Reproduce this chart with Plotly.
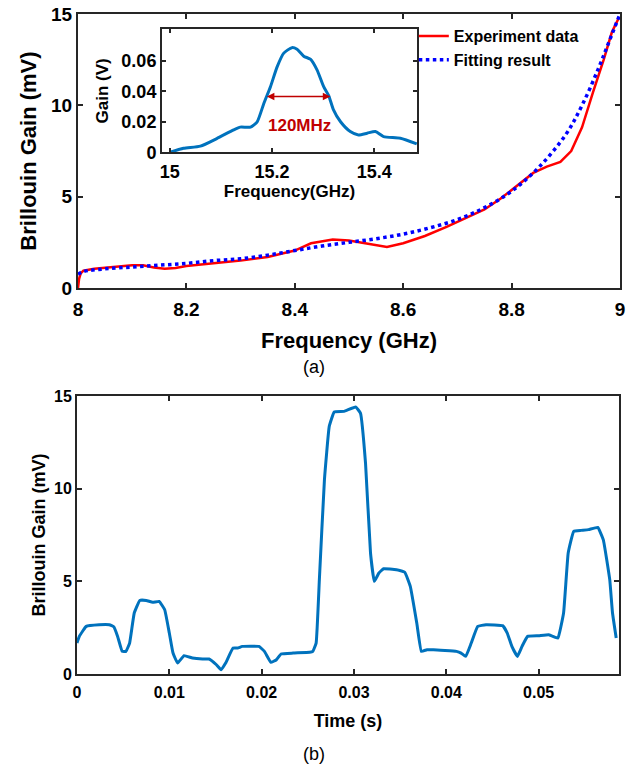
import plotly.graph_objects as go

# ---------- (a) main: experiment vs fit ----------
freq_exp = [8.0, 8.002, 8.005, 8.01, 8.03, 8.06, 8.1, 8.12, 8.14, 8.16, 8.18, 8.2, 8.25, 8.3, 8.35,
            8.4, 8.43, 8.47, 8.5, 8.54, 8.57, 8.6, 8.64, 8.68, 8.72, 8.75, 8.78, 8.81, 8.84, 8.865,
            8.89, 8.91, 8.93, 8.95, 8.97, 8.985, 8.998]
gain_exp = [0.0, 0.5, 0.8, 0.95, 1.05, 1.15, 1.25, 1.25, 1.12, 1.05, 1.1, 1.2, 1.35, 1.5, 1.7,
            2.05, 2.45, 2.65, 2.6, 2.4, 2.25, 2.45, 2.85, 3.35, 3.9, 4.3, 4.9, 5.6, 6.3, 6.65,
            6.9, 7.5, 8.8, 10.7, 12.5, 14.0, 14.8]

freq_fit = [8.0, 8.01, 8.05, 8.1, 8.15, 8.2, 8.25, 8.3, 8.35, 8.4, 8.45, 8.5, 8.55, 8.6, 8.65,
            8.7, 8.75, 8.8, 8.85, 8.9, 8.93, 8.96, 8.98, 9.0]
gain_fit = [0.75, 0.9, 1.05, 1.15, 1.25, 1.35, 1.5, 1.6, 1.8, 2.05, 2.3, 2.5, 2.7, 2.95, 3.3,
            3.75, 4.4, 5.3, 6.6, 8.4, 10.0, 12.0, 13.5, 15.0]

# ---------- (a) inset: Brillouin gain spectrum ----------
freq_in = [15.001, 15.027, 15.060, 15.092, 15.125, 15.138, 15.158, 15.171, 15.184, 15.197, 15.210,
           15.223, 15.239, 15.249, 15.262, 15.275, 15.288, 15.301, 15.311, 15.320, 15.334, 15.353,
           15.369, 15.386, 15.402, 15.418, 15.451, 15.483]
gain_in = [0.0, 0.0026, 0.004, 0.009, 0.0147, 0.0165, 0.0165, 0.020, 0.032, 0.043, 0.056,
           0.065, 0.0686, 0.0675, 0.063, 0.061, 0.054, 0.043, 0.037, 0.028, 0.020, 0.0136,
           0.0114, 0.0125, 0.0136, 0.0103, 0.0092, 0.0055]
fwhm_lo, fwhm_hi, fwhm_level = 15.187, 15.314, 0.0365

# ---------- (b) time trace ----------
time_s = [0.0, 0.00025, 0.001, 0.0024, 0.0035, 0.004, 0.0044, 0.0049, 0.0053, 0.0057, 0.0062,
          0.0068, 0.0075, 0.0082, 0.0089, 0.0095, 0.0100, 0.0104, 0.0109, 0.0116, 0.0125, 0.0136,
          0.0143, 0.0151, 0.0156, 0.0161, 0.0169, 0.0174, 0.0179, 0.0197, 0.0203, 0.0210, 0.0216,
          0.0221, 0.0234, 0.0252, 0.02554, 0.0259, 0.02625, 0.0268, 0.02732, 0.02786, 0.02893,
          0.03018, 0.0307, 0.03125, 0.03179, 0.0322, 0.0327, 0.0332, 0.0346, 0.0355, 0.0361,
          0.0368, 0.0373, 0.0379, 0.0386, 0.0411, 0.0416, 0.0421, 0.0427, 0.0434, 0.0443, 0.0461,
          0.0466, 0.0471, 0.0477, 0.0482, 0.0488, 0.0500, 0.0511, 0.0518, 0.0521, 0.0527, 0.0532,
          0.0538, 0.0546, 0.0554, 0.0564, 0.0570, 0.0577, 0.0580, 0.0584]
gain_t = [1.67, 2.03, 2.57, 2.66, 2.66, 2.54, 2.03, 1.22, 1.22, 1.67, 3.29,
          3.97, 3.97, 3.87, 3.92, 3.47, 2.21, 1.13, 0.59, 0.99, 0.86, 0.81,
          0.81, 0.50, 0.23, 0.59, 1.40, 1.40, 1.49, 1.49, 1.22, 0.63, 0.77,
          1.08, 1.13, 1.17, 1.22, 1.67, 5.09, 10.49, 13.36, 14.14, 14.17,
          14.41, 14.08, 11.38, 6.53, 5.0, 5.45, 5.68, 5.63, 5.49, 4.73,
          2.75, 1.22, 1.31, 1.31, 1.22, 1.13, 0.95, 1.67, 2.57, 2.66, 2.61,
          2.21, 1.49, 0.95, 1.49, 2.03, 2.07, 2.12, 1.98, 1.94, 3.29, 6.53,
          7.70, 7.75, 7.79, 7.91, 7.25, 5.09, 3.29, 1.94]

FONT = "Liberation Sans, Arial, sans-serif"
AXC = "#262626"
MBLUE = "#0072BD"

fig = go.Figure()
fig.add_trace(go.Scatter(x=freq_exp, y=gain_exp, mode="lines", name="Experiment data",
                         line=dict(color="#ff0000", width=2.5), xaxis="x", yaxis="y"))
fig.add_trace(go.Scatter(x=freq_fit, y=gain_fit, mode="lines", name="Fitting result",
                         line=dict(color="#0000ff", width=3.5, dash="dot", shape="spline"),
                         xaxis="x", yaxis="y"))
fig.add_trace(go.Scatter(x=freq_in, y=gain_in, mode="lines", showlegend=False,
                         line=dict(color=MBLUE, width=3, shape="spline", smoothing=0.6),
                         xaxis="x2", yaxis="y2"))
fig.add_trace(go.Scatter(x=time_s, y=gain_t, mode="lines", showlegend=False,
                         line=dict(color=MBLUE, width=3, shape="spline", smoothing=0.3),
                         xaxis="x3", yaxis="y3"))

def ax(**kw):
    d = dict(showline=True, linecolor=AXC, linewidth=2, mirror="allticks", ticks="inside",
             tickcolor=AXC, tickwidth=2, ticklen=5, showgrid=False, zeroline=False,
             automargin=False,
             tickfont=dict(family=FONT, size=19, color="#000", weight="bold"))
    d.update(kw)
    return d

fig.update_layout(
    width=627, height=766, margin=dict(l=0, r=0, t=0, b=0, autoexpand=False),
    paper_bgcolor="white", plot_bgcolor="white",
    xaxis=ax(domain=[0.1244, 0.9888], range=[8, 9], tickvals=[8, 8.2, 8.4, 8.6, 8.8, 9],
             ticktext=["8", "8.2", "8.4", "8.6", "8.8", "9"], anchor="y", ticklabelstandoff=3,
             title=dict(text="Frequency (GHz)", standoff=14,
                        font=dict(family=FONT, size=22, color="#000", weight="bold"))),
    yaxis=ax(domain=[0.624, 0.9817], range=[0, 15], tickvals=[0, 5, 10, 15], anchor="x",
             title=dict(text="Brillouin Gain (mV)", standoff=8,
                        font=dict(family=FONT, size=22, color="#000", weight="bold"))),
    xaxis2=ax(domain=[0.2584, 0.6651], range=[14.985, 15.4835], tickvals=[15, 15.2, 15.4],
              ticktext=["15", "15.2", "15.4"], anchor="y2", ticklen=4, ticklabelstandoff=2,
              tickfont=dict(family=FONT, size=18, color="#000", weight="bold"),
              title=dict(text="Frequency(GHz)", standoff=0,
                         font=dict(family=FONT, size=17, color="#000", weight="bold"))),
    yaxis2=ax(domain=[0.8012, 0.9615], range=[0, 0.0805], tickvals=[0, 0.02, 0.04, 0.06],
              ticktext=["0", "0.02", "0.04", "0.06"], anchor="x2", ticklen=4,
              tickfont=dict(family=FONT, size=18, color="#000", weight="bold"),
              title=dict(text="Gain (V)", standoff=8,
                         font=dict(family=FONT, size=17, color="#000", weight="bold"))),
    xaxis3=ax(domain=[0.1228, 0.9872], range=[0, 0.0587],
              tickvals=[0, 0.01, 0.02, 0.03, 0.04, 0.05], ticklabelstandoff=3,
              ticktext=["0", "0.01", "0.02", "0.03", "0.04", "0.05"], anchor="y3",
              tickfont=dict(family=FONT, size=16, color="#000", weight="bold"),
              title=dict(text="Time (s)", standoff=14,
                         font=dict(family=FONT, size=18, color="#000", weight="bold"))),
    yaxis3=ax(domain=[0.1201, 0.483], range=[0, 15], tickvals=[0, 5, 10, 15], anchor="x3",
              tickfont=dict(family=FONT, size=16, color="#000", weight="bold"),
              title=dict(text="Brillouin Gain (mV)", standoff=4,
                         font=dict(family=FONT, size=18, color="#000", weight="bold"))),
    legend=dict(x=0.66, y=0.975, xanchor="left", yanchor="top", bgcolor="rgba(0,0,0,0)",
                borderwidth=0, itemwidth=30, tracegroupgap=0,
                font=dict(family=FONT, size=16, color="#000", weight="bold")),
    showlegend=True,
)

# FWHM arrow in inset
fig.add_annotation(x=fwhm_hi, y=fwhm_level, ax=fwhm_lo, ay=fwhm_level, xref="x2", yref="y2",
                   axref="x2", ayref="y2", text="", showarrow=True, arrowhead=2, arrowsize=1,
                   arrowwidth=1.5, arrowcolor="#c00000", arrowside="end+start")
fig.add_annotation(x=15.253, y=0.0174, xref="x2", yref="y2", text="120MHz", showarrow=False,
                   font=dict(family=FONT, size=17, color="#c00000", weight="bold"))

fig.add_annotation(x=314 / 627, y=1 - 367 / 766, xref="paper", yref="paper", text="(a)",
                   showarrow=False, yanchor="middle", xanchor="center",
                   font=dict(family=FONT, size=18, color="#000"))
fig.add_annotation(x=314 / 627, y=1 - 754 / 766, xref="paper", yref="paper", text="(b)",
                   showarrow=False, yanchor="middle", xanchor="center",
                   font=dict(family=FONT, size=18, color="#000"))

fig.write_html("out.html", config={"displayModeBar": False},
               post_script="document.body.style.margin='0';document.body.style.overflow='hidden';")
